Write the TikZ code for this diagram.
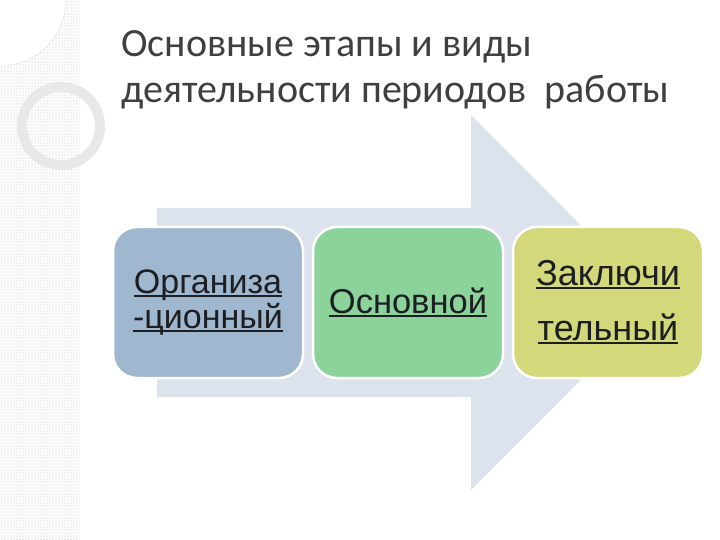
\documentclass[tikz,border=0pt]{standalone}
\usepackage{fontspec}
\setmainfont{Liberation Sans}
\newfontfamily\titlefont{Carlito}
\definecolor{arrowc}{HTML}{DDE3EC}
\definecolor{boxa}{HTML}{A0B8CF}
\definecolor{boxb}{HTML}{8BD39B}
\definecolor{boxc}{HTML}{D3D87A}
\definecolor{stripc}{HTML}{F1F1F1}
\definecolor{ringc}{HTML}{E8E8E8}
\definecolor{titlec}{HTML}{3F3F3F}
\definecolor{txtc}{HTML}{1C1E22}
\newcommand{\ulx}[1]{\leavevmode\setbox0=\hbox{#1}\rlap{\rule[-3.5pt]{\wd0}{2pt}}\box0}
\tikzset{
  stagebox/.style={draw=white, line width=2.5pt, rounded corners=24pt,
    minimum width=190pt, minimum height=151pt, align=center, text=txtc, inner sep=0pt},
}
\begin{document}
\begin{tikzpicture}[x=1pt,y=-1pt]
\useasboundingbox (0,0) rectangle (720,540);
\fill[white] (0,0) rectangle (720,540);
% left strip
\fill[stripc] (0,0) rectangle (80,540);
\draw[white, line width=0.6pt, step=3pt] (0,0) grid (80,540);
% big white circle top-left
\fill[white] (0,0) circle[radius=66];
\draw[ringc, line width=0.8pt] (0,66) arc[start angle=90, end angle=0, radius=66];
% ring
\fill[ringc, even odd rule] (61,126) circle[radius=44] (61,126) circle[radius=34];
% arrow
\fill[arrowc] (157,208) -- (471,208) -- (471,115) -- (658,302.5) -- (471,490) -- (471,397) -- (157,397) -- cycle;
% title
\node[anchor=base west, text=titlec, font=\titlefont\fontsize{40}{46}\selectfont, inner sep=0pt] (t1) at (121,57) {Основные этапы и виды};
\node[anchor=base west, text=titlec, font=\titlefont\fontsize{40}{46}\selectfont, inner sep=0pt] (t2) at (121,103) {деятельности периодов\ \ работы};
% boxes
\node[stagebox, fill=boxa, font=\fontsize{34}{35}\selectfont] (b1) at (208,302.5) {\ulx{Организа}\\\ulx{-ционный}};
\node[stagebox, fill=boxb, font=\fontsize{34.5}{35}\selectfont] (b2) at (408,302.5) {\ulx{Основной}};
\node[stagebox, fill=boxc, font=\fontsize{36}{55}\selectfont] (b3) at (608,302.5) {\ulx{Заключи}\\\ulx{тельный}};
\end{tikzpicture}
\end{document}
